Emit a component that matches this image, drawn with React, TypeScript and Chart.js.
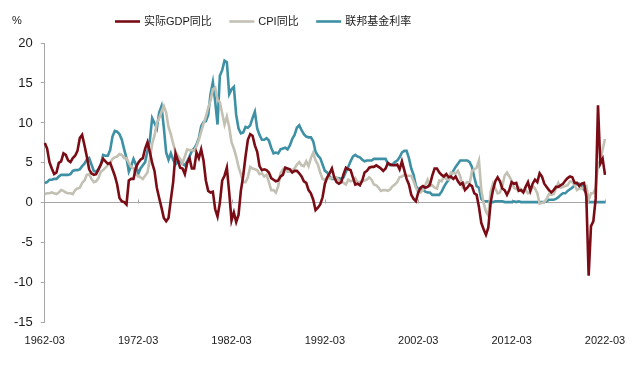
import { useEffect, useRef } from 'react';
import { Chart, registerables } from 'chart.js';

Chart.register(...registerables);

// Quarterly labels 1962-03 ... 2022-03
const firstYear = 1962;
const lastYear = 2022;
const quarterMonths = ['03', '06', '09', '12'];
const quarters: string[] = [];
for (let yr = firstYear; yr <= lastYear; yr++) {
  for (const m of quarterMonths) {
    if (yr === lastYear && m !== '03') break;
    quarters.push(`${yr}-${m}`);
  }
}

const seriesNames = ['实际GDP同比', 'CPI同比', '联邦基金利率'];
const unitLabel = '%';

// Real GDP YoY (%)
const gdpYoY = [
  7.5, 6.8, 5.1, 4.3, // 1962
  3.6, 3.8, 5.0, 5.2,
  6.2, 6.0, 5.3, 5.1,
  5.6, 5.9, 6.5, 8.1,
  8.5, 7.2, 5.8, 4.2,
  3.7, 3.5, 3.6, 4.2,
  4.8, 5.5, 5.2, 4.9,
  5.0, 4.2, 3.4, 2.3,
  0.6, 0.2, 0.1, -0.2, // 1970
  2.8, 3.0, 3.0, 4.4,
  5.0, 5.4, 5.6, 6.8,
  7.6, 6.4, 5.0, 4.0,
  1.9, 0.6, -0.6, -1.9,
  -2.3, -1.9, 0.4, 2.6,
  6.2, 5.3, 4.4, 4.3,
  3.6, 5.0, 5.6, 4.3,
  4.3, 6.3, 5.6, 6.7,
  5.3, 2.8, 1.5, 1.3,
  1.4, -0.8, -1.7, 0.0, // 1980
  2.8, 3.4, 4.4, 1.3,
  -2.2, -1.2, -2.4, -1.5,
  1.5, 3.4, 5.8, 7.9,
  8.6, 8.4, 7.2, 6.4,
  4.6, 4.1, 4.2, 4.1,
  3.8, 3.1, 2.9, 2.7,
  2.8, 3.3, 3.5, 4.4,
  4.3, 4.2, 3.8, 4.0,
  4.0, 3.7, 3.3, 2.7,
  2.5, 1.6, 1.2, 0.4, // 1990
  -0.9, -0.6, -0.2, 0.7,
  2.4, 3.2, 3.7, 4.3,
  3.2, 2.6, 2.4, 2.6,
  3.6, 4.4, 4.2, 4.1,
  3.2, 2.3, 2.4, 2.2,
  2.8, 3.8, 4.0, 4.4,
  4.5, 4.5, 4.7, 4.5,
  4.3, 4.0, 4.3, 5.0,
  4.8, 4.7, 4.7, 4.8,
  4.2, 5.2, 4.1, 3.0, // 2000
  2.3, 1.0, 0.5, 0.2,
  1.3, 1.9, 2.1, 1.9,
  2.0, 2.3, 3.4, 4.3,
  4.3, 3.8, 3.5, 3.3,
  3.6, 3.2, 3.3, 3.0,
  3.3, 2.7, 2.3, 2.5,
  1.6, 1.9, 2.3, 2.1,
  1.2, 1.0, -0.5, -2.5,
  -3.3, -4.0, -3.1, 0.0,
  1.6, 2.7, 3.2, 2.7, // 2010
  1.8, 1.6, 1.0, 1.6,
  2.6, 2.4, 2.5, 1.5,
  1.6, 1.3, 2.0, 2.6,
  1.5, 2.4, 2.9, 2.6,
  3.7, 3.3, 2.4, 2.0,
  1.6, 1.3, 1.6, 2.0,
  2.0, 2.2, 2.4, 2.8,
  3.1, 3.3, 3.2, 2.5,
  2.5, 2.1, 2.4, 2.5,
  0.8, -9.1, -2.9, -2.3, // 2020
  0.5, 12.2, 4.9, 5.5,
  3.5, // 2022
];

// CPI YoY (%)
const cpiYoY = [
  1.1, 1.2, 1.2, 1.3, // 1962
  1.2, 1.1, 1.3, 1.6,
  1.5, 1.3, 1.2, 1.2,
  1.1, 1.6, 1.8, 1.9,
  2.5, 2.8, 3.5, 3.6,
  3.0, 2.6, 2.7, 3.1,
  3.9, 4.1, 4.4, 4.7,
  5.0, 5.5, 5.7, 5.8,
  6.1, 6.0, 5.6, 5.6, // 1970
  5.0, 4.5, 4.3, 3.5,
  3.4, 3.2, 3.0, 3.4,
  3.8, 5.5, 7.4, 8.4,
  10.0, 10.6, 11.4, 12.1,
  11.3, 9.5, 8.6, 7.4,
  6.4, 5.9, 5.5, 5.0,
  5.8, 6.7, 6.6, 6.6,
  6.5, 7.1, 7.9, 8.9,
  9.9, 10.8, 11.9, 12.8,
  14.2, 14.4, 12.9, 12.6, // 1980
  11.2, 9.8, 10.8, 9.5,
  7.6, 6.8, 5.8, 4.5,
  3.6, 2.6, 2.6, 3.2,
  4.5, 4.3, 4.2, 4.1,
  3.6, 3.7, 3.3, 3.5,
  2.6, 1.6, 1.6, 1.3,
  2.1, 3.7, 4.2, 4.4,
  3.9, 3.9, 4.1, 4.3,
  4.8, 5.1, 4.7, 4.6,
  5.2, 4.6, 5.6, 6.3, // 1990
  5.3, 4.8, 3.8, 3.0,
  2.9, 3.1, 3.1, 3.1,
  3.2, 3.2, 2.8, 2.7,
  2.5, 2.3, 2.9, 2.7,
  2.8, 3.1, 2.6, 2.6,
  2.7, 2.8, 2.9, 3.2,
  2.9, 2.3, 2.2, 1.9,
  1.5, 1.6, 1.6, 1.5,
  1.7, 2.1, 2.3, 2.6,
  3.2, 3.3, 3.5, 3.4, // 2000
  3.4, 3.4, 2.7, 1.9,
  1.3, 1.3, 1.6, 2.2,
  2.9, 2.1, 2.2, 1.9,
  1.8, 2.8, 2.7, 3.3,
  3.0, 2.9, 3.8, 3.7,
  3.7, 4.0, 3.3, 2.0,
  2.4, 2.6, 2.4, 4.0,
  4.2, 4.4, 5.3, 1.6,
  0.0, -1.1, -1.6, 1.4,
  2.4, 1.8, 1.2, 1.3, // 2010
  2.1, 3.4, 3.8, 3.3,
  2.8, 1.9, 1.7, 1.9,
  1.7, 1.4, 1.6, 1.2,
  1.4, 2.1, 1.8, 1.2,
  -0.1, 0.0, 0.1, 0.5,
  1.1, 1.0, 1.1, 1.8,
  2.5, 1.9, 2.0, 2.1,
  2.2, 2.7, 2.6, 2.2,
  1.6, 1.8, 1.8, 2.0,
  2.1, 0.4, 1.2, 1.2, // 2020
  1.9, 4.8, 5.3, 6.7,
  8.0, // 2022
];

// Effective federal funds rate, quarterly average (%)
const fedFunds = [
  2.5, 2.6, 2.9, 2.9, // 1962
  3.0, 3.0, 3.3, 3.5,
  3.5, 3.5, 3.5, 3.6,
  4.0, 4.1, 4.1, 4.2,
  4.6, 4.9, 5.4, 5.6,
  4.8, 4.0, 3.9, 4.2,
  4.8, 6.0, 5.9, 5.9,
  6.6, 8.3, 9.0, 8.9,
  8.6, 7.9, 6.7, 5.6, // 1970
  3.9, 4.6, 5.5, 4.8,
  3.6, 4.3, 4.7, 5.1,
  6.5, 7.8, 10.6, 10.0,
  9.3, 11.3, 12.1, 9.4,
  6.3, 5.4, 6.2, 5.4,
  4.8, 5.2, 5.3, 4.9,
  4.7, 5.2, 5.8, 6.5,
  6.8, 7.3, 8.1, 9.6,
  10.1, 10.2, 11.0, 13.6,
  15.1, 12.7, 9.8, 15.9, // 1980
  16.6, 17.8, 17.6, 13.6,
  14.2, 14.5, 11.0, 9.3,
  8.7, 8.8, 9.5, 9.4,
  9.7, 10.6, 11.4, 9.3,
  8.5, 7.9, 7.9, 8.1,
  7.8, 6.9, 6.2, 6.3,
  6.2, 6.7, 6.8, 6.9,
  6.7, 7.2, 8.0, 8.5,
  9.4, 9.7, 9.1, 8.6,
  8.3, 8.2, 8.2, 7.7, // 1990
  6.4, 5.9, 5.6, 4.8,
  4.0, 3.8, 3.3, 3.0,
  3.0, 3.0, 3.1, 3.0,
  3.2, 3.9, 4.5, 5.2,
  5.8, 6.0, 5.8, 5.7,
  5.4, 5.2, 5.3, 5.3,
  5.3, 5.5, 5.5, 5.5,
  5.5, 5.5, 5.5, 4.9,
  4.7, 4.8, 5.1, 5.3,
  5.7, 6.3, 6.5, 6.5, // 2000
  5.6, 4.3, 3.5, 2.1,
  1.7, 1.8, 1.7, 1.4,
  1.3, 1.3, 1.0, 1.0,
  1.0, 1.0, 1.4, 2.0,
  2.5, 2.9, 3.5, 4.0,
  4.5, 4.9, 5.3, 5.3,
  5.3, 5.3, 5.1, 4.5,
  3.2, 2.1, 1.9, 0.5,
  0.2, 0.2, 0.2, 0.1,
  0.1, 0.2, 0.2, 0.2, // 2010
  0.2, 0.1, 0.1, 0.1,
  0.1, 0.2, 0.1, 0.2,
  0.1, 0.1, 0.1, 0.1,
  0.1, 0.1, 0.1, 0.1,
  0.1, 0.1, 0.1, 0.2,
  0.4, 0.4, 0.4, 0.5,
  0.7, 1.0, 1.2, 1.2,
  1.5, 1.7, 1.9, 2.2,
  2.4, 2.4, 2.2, 1.6,
  1.3, 0.1, 0.1, 0.1, // 2020
  0.1, 0.1, 0.1, 0.1,
  0.1, // 2022
];

const yTickMin = -15;
const yTickMax = 20;
const yTickStep = 5;
const xLabelEvery = 40;

const colors = ['#7a0c16', '#c3c1b4', '#3e90a5'];
const lineWidth = 2.6;
const axisColor = '#a6a6a6';
const textColor = '#1a1a1a';
const fontFamily = "'Liberation Sans', Arial, 'Noto Sans CJK SC', sans-serif";

// legend / unit label layout
const legendStartX = 115;
const legendCenterY = 21.5;
const legendLineLen = 25;
const legendTextGap = 4;
const legendItemGap = 17.5;
const smallFont = 11;

const extrasPlugin = {
  id: 'extras',
  beforeDatasetsDraw(chart: any) {
    const { ctx, scales } = chart;
    const x = scales.x;
    const y = scales.y;
    const y0 = Math.round(y.getPixelForValue(0)) + 0.5;
    ctx.save();
    ctx.strokeStyle = axisColor;
    ctx.lineWidth = 1;
    for (let i = xLabelEvery; i < quarters.length; i += xLabelEvery) {
      const px = Math.round(x.getPixelForValue(i)) + 0.5;
      ctx.beginPath();
      ctx.moveTo(px, y0);
      ctx.lineTo(px, y0 - 4);
      ctx.stroke();
    }
    ctx.restore();
  },
  afterDraw(chart: any) {
    const { ctx } = chart;
    ctx.save();
    ctx.font = `${smallFont}px ${fontFamily}`;
    ctx.textBaseline = 'middle';
    // unit label
    ctx.fillStyle = textColor;
    ctx.textAlign = 'center';
    ctx.fillText(unitLabel, 17, 20.5);
    // legend
    ctx.textAlign = 'left';
    let cx = legendStartX;
    chart.data.datasets.forEach((ds: any) => {
      ctx.strokeStyle = ds.borderColor;
      ctx.lineWidth = lineWidth;
      ctx.beginPath();
      ctx.moveTo(cx, legendCenterY);
      ctx.lineTo(cx + legendLineLen, legendCenterY);
      ctx.stroke();
      cx += legendLineLen + legendTextGap;
      ctx.fillStyle = textColor;
      ctx.fillText(ds.label, cx, legendCenterY + 0.5);
      cx += ctx.measureText(ds.label).width + legendItemGap;
    });
    ctx.restore();
  },
};

export default function App() {
  const canvasRef = useRef<HTMLCanvasElement | null>(null);

  useEffect(() => {
    const canvas = canvasRef.current;
    if (!canvas) return;
    const seriesValues = [gdpYoY, cpiYoY, fedFunds];
    const chart = new Chart(canvas, {
      type: 'line',
      data: {
        labels: quarters,
        datasets: seriesValues.map((vals, k) => ({
          label: seriesNames[k],
          data: vals,
          borderColor: colors[k],
          backgroundColor: colors[k],
          borderWidth: lineWidth,
          pointRadius: 0,
          tension: 0,
          fill: false,
        })),
      },
      options: {
        responsive: false,
        animation: false,
        devicePixelRatio: 1,
        layout: { padding: { left: 6, right: 35, top: 43, bottom: 15 } },
        plugins: {
          tooltip: { enabled: false },
          legend: { display: false },
        },
        scales: {
          x: {
            type: 'category',
            offset: false,
            grid: { display: false, drawTicks: false },
            border: { display: false },
            ticks: {
              autoSkip: false,
              maxRotation: 0,
              minRotation: 0,
              padding: 12,
              color: textColor,
              font: { size: smallFont, family: fontFamily },
              callback: (_v: any, i: number) => (i % xLabelEvery === 0 ? quarters[i] : null),
            },
          },
          y: {
            min: yTickMin,
            max: yTickMax,
            grid: {
              drawOnChartArea: true,
              drawTicks: true,
              tickLength: 4,
              tickColor: axisColor,
              color: (c: any) => (c.tick && c.tick.value === 0 ? axisColor : 'rgba(0,0,0,0)'),
              lineWidth: 1,
            },
            border: { display: true, color: axisColor, width: 1 },
            ticks: {
              stepSize: yTickStep,
              padding: 8,
              color: textColor,
              font: { size: 13, family: fontFamily },
            },
          },
        },
      },
      plugins: [extrasPlugin],
    } as any);
    return () => chart.destroy();
  }, []);

  return (
    <div style={{ position: 'fixed', left: 0, top: 0, width: 640, height: 375, background: '#fff' }}>
      <canvas ref={canvasRef} width={640} height={375} style={{ width: 640, height: 375, display: 'block' }} />
    </div>
  );
}
